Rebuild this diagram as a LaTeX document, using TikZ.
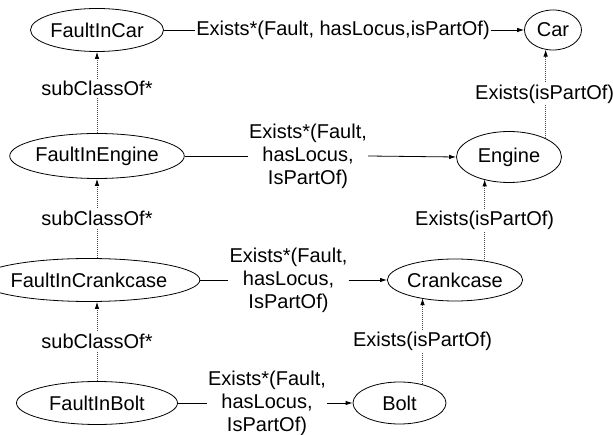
\documentclass[tikz,border=0pt]{standalone}
\usepackage{fontspec}
\setmainfont{Liberation Sans}
\usetikzlibrary{shapes.geometric,arrows.meta}
\tikzset{
  cls/.style={ellipse, draw, line width=0.8pt, inner sep=0pt, minimum height=43pt},
  tip/.style={-{Latex[length=7pt,width=4.5pt,color=black]}},
  plain/.style={line width=0.8pt},
  rel/.style={plain, tip},
  hier/.style={line width=0.8pt, draw=black!70, dash pattern=on 1pt off 1pt, tip},
  lbl/.style={align=center, inner sep=1pt},
  vlbl/.style={fill=white, inner xsep=0pt, inner ysep=2pt},
}
\begin{document}
\begin{tikzpicture}[x=1pt,y=-1pt,font=\fontsize{20}{23}\selectfont]
\useasboundingbox (0,0) rectangle (613,435);

% fault classes (left column)
\node[cls, minimum width=133pt] (fcar) at (97,30) {FaultInCar};
\node[cls, minimum width=136pt, minimum height=45pt] (feng) at (97,156) {FaultInEngine};
\node[cls, minimum width=158pt] (fcc) at (89,280) {FaultInCrankcase};
\node[cls, minimum width=161pt] (fbolt) at (97,403) {FaultInBolt};

% part classes (right side)
\node[cls, minimum width=57pt, minimum height=40pt] (car) at (553,30) {Car};
\node[cls, minimum width=105pt, minimum height=51pt] (eng) at (509,157) {Engine};
\node[cls, minimum width=112pt, minimum height=42pt] (cc) at (455,280) {Crankcase};
\node[cls, minimum width=93pt, minimum height=42pt] (bolt) at (399.5,403) {Bolt};

% restriction labels
\node[lbl] (r1) at (343,30) {Exists*(Fault, hasLocus,isPartOf)};
\node[lbl] (r2) at (308,156) {Exists*(Fault,\\hasLocus,\\IsPartOf)};
\node[lbl] (r3) at (288.5,280) {Exists*(Fault,\\hasLocus,\\IsPartOf)};
\node[lbl] (r4) at (267,403) {Exists*(Fault,\\hasLocus,\\IsPartOf)};

% fault -> part connectors
\draw[plain] (fcar.east) -- (r1.west);
\draw[rel] (r1.east) -- (car.west);
\draw[plain] (feng.east) -- (feng.east -| r2.west);
\draw[rel] (feng.east -| r2.east) -- (eng.west);
\draw[plain] (fcc.east) -- (fcc.east -| r3.west);
\draw[rel] (fcc.east -| r3.east) -- (cc.west);
\draw[plain] (fbolt.east) -- (fbolt.east -| r4.west);
\draw[rel] (fbolt.east -| r4.east) -- (bolt.west);

% subclass hierarchy
\draw[hier] (feng.north) -- (fcar.south) node[vlbl, pos=0.55] {subClassOf*};
\draw[hier] (fcc.north -| feng.south) -- (feng.south) node[vlbl, midway] {subClassOf*};
\draw[hier] (fbolt.north) -- (fcc.south -| fbolt.north) node[vlbl, midway] {subClassOf*};

% part-of hierarchy
\draw[hier] (eng.27.3) -- (car.247.4 -| eng.27.3) node[vlbl, midway, xshift=-1pt] {Exists(isPartOf)};
\draw[hier] (cc.33) -- (eng.220.5 -| cc.33) node[vlbl, midway] {Exists(isPartOf)};
\draw[hier] (bolt.39.3) -- (cc.207.3 -| bolt.39.3) node[vlbl, midway] {Exists(isPartOf)};
\end{tikzpicture}
\end{document}
